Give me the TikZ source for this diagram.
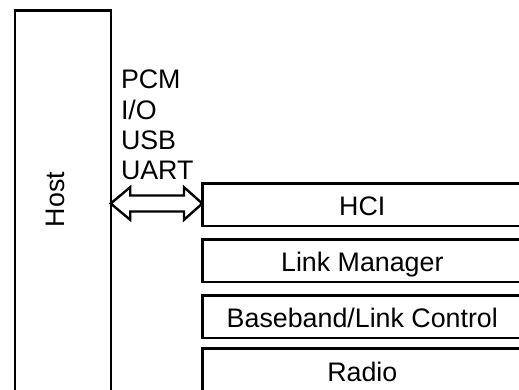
\documentclass[tikz,border=0pt]{standalone}
\usepackage{fontspec}
\setmainfont{Liberation Sans}
\usetikzlibrary{calc}
\begin{document}
\begin{tikzpicture}[x=1bp,y=-1bp,
  every node/.style={font=\fontsize{26.8bp}{30bp}\selectfont, inner sep=0pt, outer sep=0pt},
  layer/.style={draw, line width=2.4bp, rectangle, anchor=north west,
    minimum width=320bp, minimum height=42.4bp, text height=21.8bp, text depth=0pt},
  hostbox/.style={draw, line width=2.4bp, rectangle, anchor=north west,
    minimum width=95.7bp, minimum height=420bp},
  iface/.style={anchor=base west},
  bigarrow/.style={draw, line width=2.4bp, fill=white, line join=miter}
]
\useasboundingbox (0,0) rectangle (519,389);
\clip (0,0) rectangle (519,389);
\node[hostbox] (host) at (15,10.5) {};
\node[rotate=90, anchor=base] (hostlabel) at (64.6,199.5) {Host};
\node[layer] (hci) at (202.3,183.3) {HCI};
\node[layer] (lm) at (202.3,239.3) {Link Manager};
\node[layer] (bb) at (202.3,295.5) {Baseband/Link Control};
\node[layer, minimum height=47bp, text height=19.2bp] (radio) at (202.3,348.3) {Radio};
\node[iface] (pcm) at (121,88.4) {PCM};
\node[iface] (io) at (121,119.0) {I/O};
\node[iface] (usb) at (121,149.3) {USB};
\node[iface] (uart) at (121,179.3) {UART};
\coordinate (L) at ($(host.east |- hci.west)+(0,-1)$);
\coordinate (R) at ($(hci.west)+(0,-1)$);
\draw[bigarrow] (L) -- ($(L)+(19.5,-16.3)$) -- ($(L)+(19.5,-8)$) -- ($(R)+(-18.3,-8)$)
  -- ($(R)+(-18.3,-16.3)$) -- (R) -- ($(R)+(-18.3,16.3)$) -- ($(R)+(-18.3,8)$)
  -- ($(L)+(19.5,8)$) -- ($(L)+(19.5,16.3)$) -- cycle;
\end{tikzpicture}
\end{document}
